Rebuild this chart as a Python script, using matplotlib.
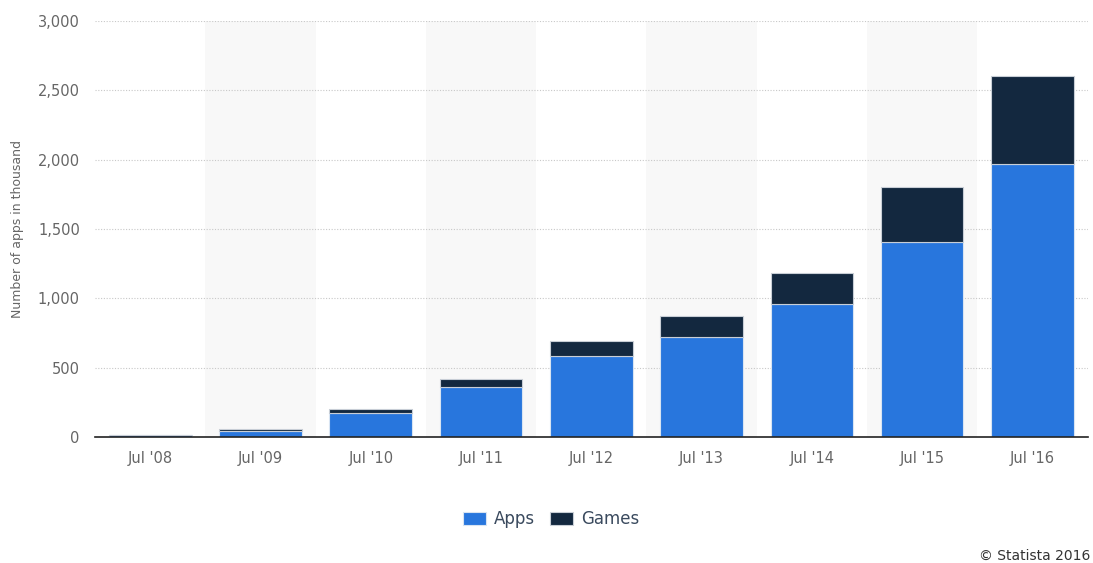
import numpy as np
import matplotlib.pyplot as plt

years = ["Jul '08", "Jul '09", "Jul '10", "Jul '11", "Jul '12",
         "Jul '13", "Jul '14", "Jul '15", "Jul '16"]
apps = [15, 45, 170, 360, 585, 720, 955, 1405, 1970]
games = [0, 15, 30, 60, 105, 155, 225, 395, 630]

apps_color = '#2876dd'
games_color = '#13283f'
text_color = '#666666'

plt.rcParams['font.family'] = ['DejaVu Sans']

fig = plt.figure(figsize=(10.93, 5.63), dpi=100)
ax = fig.add_axes([0.087, 0.224, 0.908, 0.739])

x = np.arange(len(years))

# alternating light bands behind every other column
for i in x:
    if i % 2 == 1:
        ax.axvspan(i - 0.5, i + 0.5, color='#f8f8f8', zorder=0, lw=0)

ax.bar(x, apps, width=0.75, color=apps_color, edgecolor='#d8e4f2',
       linewidth=0.8, label='Apps', zorder=3)
ax.bar(x, games, width=0.75, bottom=apps, color=games_color,
       edgecolor='#c8ced6', linewidth=0.8, label='Games', zorder=3)

ax.set_xlim(-0.5, len(years) - 0.5)
ax.set_ylim(0, 3000)
ax.set_yticks(np.arange(0, 3001, 500))
ax.set_yticklabels(['{:,}'.format(v) for v in range(0, 3001, 500)])
ax.set_xticks(x)
ax.set_xticklabels(years)

for v in range(500, 3001, 500):
    ax.axhline(v, color='#c8c8c8', lw=0.8, ls=(0, (1, 1.5)), zorder=1)

for s in ['top', 'right', 'left']:
    ax.spines[s].set_visible(False)
ax.spines['bottom'].set_color('#222222')
ax.spines['bottom'].set_linewidth(1.2)
ax.spines['bottom'].set_zorder(4)

ax.tick_params(axis='both', length=0, labelsize=10.5, colors=text_color)
ax.tick_params(axis='x', pad=10)
ax.tick_params(axis='y', pad=11)

ax.set_ylabel('Number of apps in thousand', fontsize=9, color=text_color,
              labelpad=10)

fig.legend(*ax.get_legend_handles_labels(), loc='center',
           bbox_to_anchor=(0.504, 0.078), ncol=2, frameon=False,
           fontsize=12, handlelength=1.4, handleheight=0.85,
           columnspacing=0.9, handletextpad=0.45, labelcolor='#3a4a5e')

fig.text(0.998, 0.006, '\u00a9 Statista 2016', ha='right', va='baseline',
         fontsize=10, color='#333333')

fig.savefig('out.png', dpi=100)
